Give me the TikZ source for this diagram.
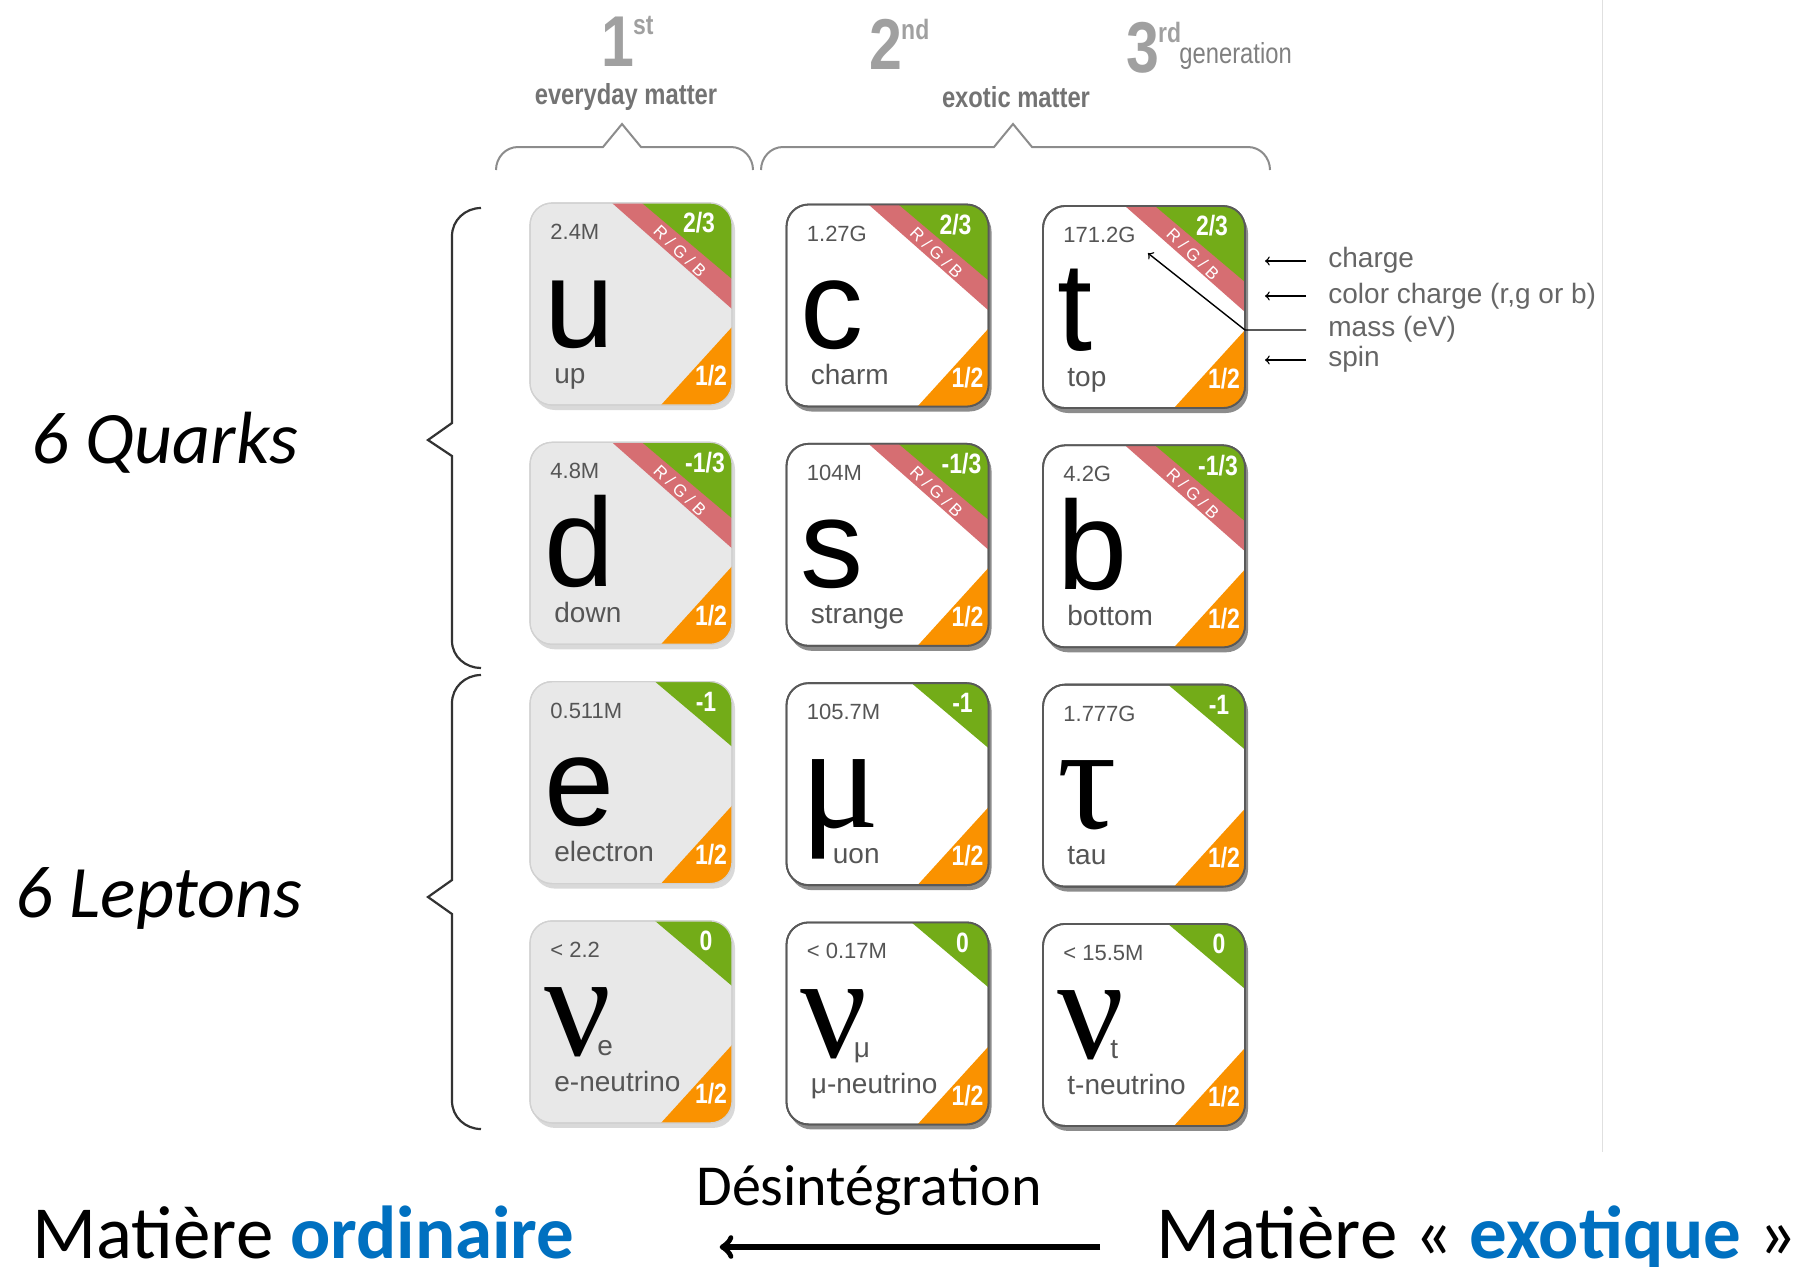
\documentclass[tikz,border=0pt]{standalone}
\usepackage{fontspec}
\setmainfont{Liberation Sans}
\newfontfamily\grkfont{Liberation Serif}
\newfontfamily\hdfont[FakeStretch=0.82]{Liberation Sans}
\newfontfamily\calibri{Carlito}
\usetikzlibrary{calc,shadows}

\definecolor{hgreen}{RGB}{115,172,24}
\definecolor{hred}{RGB}{214,110,114}
\definecolor{horange}{RGB}{250,146,0}
\definecolor{tilegray}{RGB}{232,232,232}
\definecolor{hdgray}{RGB}{160,160,160}
\definecolor{txtgray}{RGB}{85,85,85}
\definecolor{msblue}{RGB}{0,112,192}

\newcommand\fsz[1]{\fontsize{#1}{#1}\selectfont}
\newcommand\grk{\grkfont\fsz{74pt}}
\newcommand\nusub[1]{\kern-7pt{\normalfont\fsz{14pt}\color{txtgray}#1}}

\tikzset{
  tile/.style={rectangle, rounded corners=11pt, minimum size=101pt,
    inner sep=0pt, outer sep=0pt, anchor=north west},
  mass/.style={anchor=west, inner sep=0pt, text=txtgray, font=\fsz{11pt}},
  symb/.style={anchor=base west, inner sep=0pt, font=\fsz{63pt}},
  pname/.style={anchor=base west, inner sep=0pt, text=txtgray, font=\fsz{14pt}},
  chg/.style={inner sep=0pt, text=white, font=\hdfont\bfseries\fsz{14pt}},
  rgb/.style={inner sep=0pt, text=white, rotate=-44, font=\fsz{8.5pt}},
  legend/.style={anchor=base west, inner sep=0pt, text=black!60, font=\fsz{14pt}},
  larrow/.style={->, black, line width=0.7pt},
  hnum/.style={anchor=base, inner sep=0pt, text=hdgray, font=\hdfont\bfseries\fsz{36pt}},
  hsup/.style={anchor=north west, inner sep=0pt, text=hdgray, font=\hdfont\bfseries\fsz{14pt}},
  hlab/.style={anchor=base, inner sep=0pt, text=black!55, font=\hdfont\bfseries\fsz{14.5pt}},
  gbrace/.style={draw=black!45, line width=1pt},
  kbrace/.style={draw=black!80, line width=1.1pt},
  cal/.style={anchor=base west, inner sep=0pt, font=\calibri\fsz{37.5pt}}
}

\begin{document}
\begin{tikzpicture}[x=0.5pt,y=-0.5pt]
  \useasboundingbox (0,0) rectangle (1807,1266);
  \draw[black!12] (1602,0) -- (1602,1152);

  \foreach \id/\col/\row/\sym/\nm/\ms/\q in {
      u/0/0/{u}/up/2.4M/{2/3},
      c/1/0/{c}/charm/1.27G/{2/3},
      t/2/0/{t}/top/171.2G/{2/3},
      d/0/1/{d}/down/4.8M/{-1/3},
      s/1/1/{s}/strange/104M/{-1/3},
      b/2/1/{b}/bottom/4.2G/{-1/3},
      e/0/2/{e}/electron/0.511M/{-1},
      mu/1/2/{\grk μ}/{\hspace*{11pt}uon}/105.7M/{-1},
      tau/2/2/{\grk τ}/tau/1.777G/{-1},
      ne/0/3/{\grk ν\nusub{e}}/e-neutrino/{< 2.2}/0,
      nm/1/3/{\grk ν\nusub{μ}}/μ-neutrino/{< 0.17M}/0,
      nt/2/3/{\grk ν\nusub{t}}/t-neutrino/{< 15.5M}/0}{
    \ifnum\col=0 \def\tfill{tilegray}\def\tdraw{black!18}\def\tshade{0.15}\def\tlw{0.6pt}%
    \else \def\tfill{white}\def\tdraw{black!65}\def\tshade{0.45}\def\tlw{0.9pt}\fi
    \node[tile, fill=\tfill, draw=\tdraw, line width=\tlw,
      drop shadow={shadow xshift=1.5pt, shadow yshift=-2.5pt, opacity=\tshade, fill=black}]
      (\id) at ({530+256.5*\col},{203+239.3*\row+1.5*\col}) {};
    \begin{scope}
      \clip[rounded corners=11pt] (\id.north west) rectangle (\id.south east);
      \ifnum\row<2
        \fill[hred] ($(\id.north east)+(-120,0)$) -- (\id.north east) -- ($(\id.north east)+(0,106)$) -- cycle;
        \fill[hgreen] ($(\id.north east)+(-90,0)$) -- (\id.north east) -- ($(\id.north east)+(0,76)$) -- cycle;
      \else
        \fill[hgreen] ($(\id.north east)+(-77,0)$) -- (\id.north east) -- ($(\id.north east)+(0,65)$) -- cycle;
      \fi
      \fill[horange] ($(\id.south east)+(0,-78)$) -- (\id.south east) -- ($(\id.south east)+(-71,0)$) -- cycle;
    \end{scope}
    \draw[rounded corners=11pt, draw=\tdraw, line width=\tlw] (\id.north west) rectangle (\id.south east);
    \pgfmathsetmacro\sy{\row==3 ? 135 : 144}
    \pgfmathsetmacro\ny{\row==3 ? 171 : 180}
    \pgfmathsetmacro\qx{\row==0 ? -33 : (\row==1 ? -27 : -26)}
    \node[mass] (\id-m) at ($(\id.north west)+(20,29)$) {\ms};
    \node[symb] (\id-s) at ($(\id.north west)+(14,\sy)$) {\sym};
    \node[pname] (\id-n) at ($(\id.north west)+(24,\ny)$) {\nm};
    \node[chg] (\id-q) at ($(\id.north east)+(\qx,20)$) {\q};
    \ifnum\row<2 \node[rgb] (\id-c) at ($(\id.north east)+(-52,48)$) {R / G / B};\fi
    \node[chg] (\id-p) at ($(\id.south east)+(-21,-29)$) {1/2};
  }

  \node[legend] (lq) at (1328,267) {charge};
  \node[legend] (lc) at (1328,303) {color charge (r,g or b)};
  \node[legend] (lm) at (1328,336) {mass (eV)};
  \node[legend] (ls) at (1328,366) {spin};
  \draw[larrow] ($(lq.base west)+(-22,-6)$) -- +(-41,0);
  \draw[larrow] ($(lc.base west)+(-22,-7)$) -- +(-41,0);
  \draw[larrow] ($(ls.base west)+(-22,-6)$) -- +(-41,0);
  \draw[larrow] ($(t.south east)+(61,-78)$) -- ($(t.south east)+(0,-78)$) -- ($(t-m.south east)+(12,10)$);

  \node[hnum] (g1) at (618,66) {1};
  \node[hsup] (g1s) at ([xshift=-1pt]g1.north east) {st};
  \node[hnum] (g2) at (886,69) {2};
  \node[hsup] (g2s) at ([xshift=-1pt]g2.north east) {nd};
  \node[hnum] (g3) at (1143,72) {3};
  \node[hsup] (g3s) at ([xshift=-1pt]g3.north east) {rd};
  \node[anchor=base west, inner sep=0pt, text=black!50, font=\hdfont\fsz{14.5pt}] (gen) at (1179,63) {generation};
  \node[hlab] (every) at (626,104) {everyday matter};
  \node[hlab] (exotic) at (1016,107) {exotic matter};
  \draw[gbrace] (496,170) to[out=90,in=180] (518,147) -- (603,147) -- (622,124) -- (641,147)
    -- (731,147) to[out=0,in=90] (753,170);
  \draw[gbrace] (761,170) to[out=90,in=180] (783,147) -- (994,147) -- (1013,124) -- (1032,147)
    -- (1248,147) to[out=0,in=90] (1270,170);

  \draw[kbrace] (481,208) to[out=180,in=90] (452,236) -- (452,423) -- (428,440) -- (452,456)
    -- (452,641) to[out=270,in=180] (481,668);
  \draw[kbrace] (481,675) to[out=180,in=90] (452,703) -- (452,880) -- (428,897) -- (452,914)
    -- (452,1101) to[out=270,in=180] (481,1129);
  \node[cal, font=\calibri\itshape\fsz{37pt}] (quarks) at (31,463) {6 Quarks};
  \node[cal, font=\calibri\itshape\fsz{37pt}] (leptons) at (15,917) {6 Leptons};

  \node[cal] (ord) at (32,1258) {Matière \textcolor{msblue}{\bfseries ordinaire}};
  \node[cal] (exo) at (1156,1258) {Matière « \textcolor{msblue}{\bfseries exotique} »};
  \node[cal, font=\calibri\fsz{29pt}] (decay) at (696,1205) {Désintégration};
  \draw[->, line width=3pt] ($(exo.base west)+(-56,-11)$) -- ($(ord.base east)+(145,-11)$);
\end{tikzpicture}
\end{document}
